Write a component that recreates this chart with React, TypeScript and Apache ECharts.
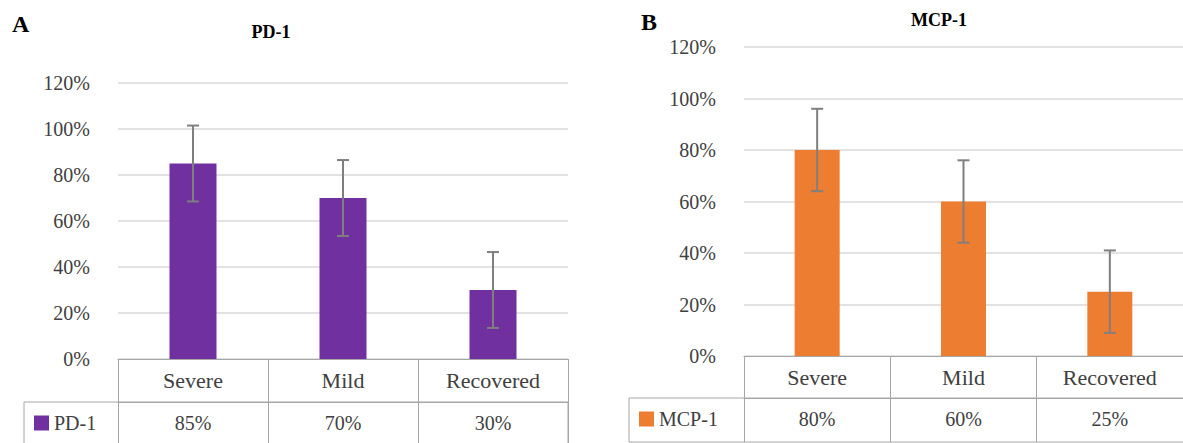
import React, { useEffect, useRef } from "react";
import * as echarts from "echarts";

const categories = ["Severe", "Mild", "Recovered"];
const pdValues = [85, 70, 30];
const pdErrors = [16.5, 16.5, 16.5];
const mcpValues = [80, 60, 25];
const mcpErrors = [16, 16, 16];
const yTicks = { min: 0, max: 120, interval: 20 };

const FONT = "Liberation Serif";
const TEXT = "#404040";
const BORDER = "#a6a6a6";
const GRID = "#d9d9d9";
const ERR = "#7f7f7f";

function errRender(params: any, api: any) {
  const x = api.value(0);
  const lo = api.coord([x, api.value(1)]);
  const hi = api.coord([x, api.value(2)]);
  const half = 6;
  const style = { stroke: ERR, lineWidth: 2 };
  return {
    type: "group",
    children: [
      { type: "line", shape: { x1: hi[0], y1: hi[1], x2: lo[0], y2: lo[1] }, style },
      { type: "line", shape: { x1: hi[0] - half, y1: hi[1], x2: hi[0] + half, y2: hi[1] }, style },
      { type: "line", shape: { x1: lo[0] - half, y1: lo[1], x2: lo[0] + half, y2: lo[1] }, style },
    ],
  };
}

export default function App() {
  const ref = useRef<HTMLDivElement>(null);
  useEffect(() => {
    if (!ref.current) return;
    const chart = echarts.init(ref.current, undefined, { renderer: "svg" });

    const panels = [
      { name: "PD-1", values: pdValues, errors: pdErrors, color: "#7030A0", grid: { left: 118, top: 83, width: 450, height: 276 }, headH: 43, dataH: 48, barW: 47, legendX: 24 },
      { name: "MCP-1", values: mcpValues, errors: mcpErrors, color: "#ED7D31", grid: { left: 744, top: 47, width: 442, height: 309 }, headH: 42, dataH: 44, barW: 45, legendX: 629 },
    ];

    const grids: any[] = [];
    const xAxes: any[] = [];
    const yAxes: any[] = [];
    const series: any[] = [];
    const legends: any[] = [];
    const graphics: any[] = [];

    panels.forEach((p, i) => {
      grids.push({ ...p.grid, containLabel: false });
      xAxes.push({
        type: "category",
        gridIndex: i,
        data: categories,
        position: "bottom",
        axisLine: { show: true, lineStyle: { color: BORDER, width: 1 } },
        axisTick: { show: true, length: p.headH, lineStyle: { color: BORDER, width: 1 } },
        axisLabel: { margin: 0, lineHeight: p.headH, fontFamily: FONT, fontSize: 22, color: TEXT },
      });
      xAxes.push({
        type: "category",
        gridIndex: i,
        data: categories,
        position: "bottom",
        offset: p.headH,
        axisLine: { show: true, lineStyle: { color: BORDER, width: 1 } },
        axisTick: { show: true, length: p.dataH, lineStyle: { color: BORDER, width: 1 } },
        axisLabel: {
          margin: 0,
          lineHeight: 41,
          fontFamily: FONT,
          fontSize: 20,
          color: TEXT,
          formatter: (_v: string, idx: number) => `${p.values[idx]}%`,
        },
      });
      yAxes.push({
        type: "value",
        gridIndex: i,
        min: yTicks.min,
        max: yTicks.max,
        interval: yTicks.interval,
        axisLine: { show: false },
        axisTick: { show: false },
        splitLine: { show: true, lineStyle: { color: GRID, width: 1.5 } },
        axisLabel: { margin: 28, fontFamily: FONT, fontSize: 20, color: TEXT, formatter: "{value}%" },
      });
      series.push({
        type: "bar",
        name: p.name,
        xAxisIndex: i * 2,
        yAxisIndex: i,
        data: p.values,
        barWidth: p.barW,
        itemStyle: { color: p.color },
      });
      series.push({
        type: "custom",
        name: p.name + " error",
        xAxisIndex: i * 2,
        yAxisIndex: i,
        renderItem: errRender,
        data: p.values.map((v, k) => [k, v - p.errors[k], v + p.errors[k]]),
        z: 5,
        silent: true,
      });
      const rowTop = p.grid.top + p.grid.height + p.headH;
      legends.push({
        data: [p.name],
        left: p.legendX + 10,
        top: rowTop + 11,
        padding: 0,
        itemWidth: 15,
        itemHeight: 15,
        icon: "rect",
        textStyle: { fontFamily: FONT, fontSize: 20, color: TEXT },
        selectedMode: false,
      });
      graphics.push({
        type: "rect",
        shape: { x: p.legendX, y: rowTop, width: p.grid.left + p.grid.width - p.legendX, height: p.dataH },
        style: { fill: "none", stroke: BORDER, lineWidth: 1 },
        silent: true,
      });
    });

    graphics.push(
      { type: "text", x: 12, y: 24, style: { text: "A", font: `bold 24px ${FONT}`, fill: "#000", textVerticalAlign: "middle" } },
      { type: "text", x: 271, y: 32, style: { text: "PD-1", font: `bold 18px ${FONT}`, fill: "#000", textAlign: "center", textVerticalAlign: "middle" } },
      { type: "text", x: 641, y: 22, style: { text: "B", font: `bold 24px ${FONT}`, fill: "#000", textVerticalAlign: "middle" } },
      { type: "text", x: 939, y: 20, style: { text: "MCP-1", font: `bold 18px ${FONT}`, fill: "#000", textAlign: "center", textVerticalAlign: "middle" } }
    );

    chart.setOption({
      animation: false,
      backgroundColor: "#fff",
      grid: grids,
      xAxis: xAxes,
      yAxis: yAxes,
      series,
      legend: legends,
      graphic: graphics,
    });
    return () => chart.dispose();
  }, []);
  return <div ref={ref} style={{ position: "fixed", left: 0, top: 0, width: 1183, height: 443 }} />;
}
